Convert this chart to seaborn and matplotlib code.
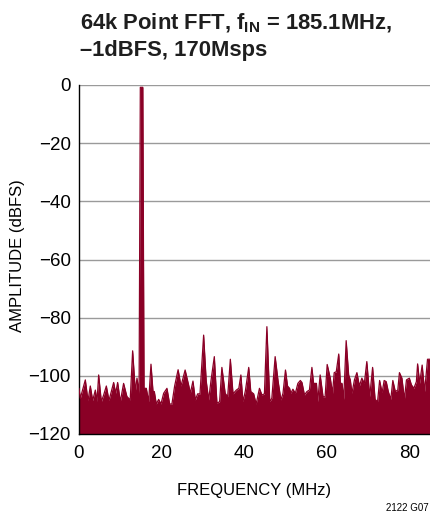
import matplotlib
matplotlib.use("Agg")
import matplotlib.pyplot as plt
import seaborn as sns
import pandas as pd
from matplotlib import font_manager as fm

# ---- data ----
freq_mhz = [0.0, 0.32, 1.53, 2.18, 2.74, 3.31, 3.96, 4.36, 4.76, 5.41, 5.97, 6.62, 7.26, 7.83,
            8.39, 8.88, 9.36, 10.0, 10.8, 11.6, 12.4, 12.99, 13.64, 14.04, 14.55, 14.85, 15.45,
            15.75, 16.3, 16.87, 17.43, 17.92, 18.24, 18.72, 19.29, 19.85, 20.5, 21.3, 21.95,
            22.5, 23.16, 24.0, 24.7, 25.7, 26.6, 26.96, 27.6, 28.17, 28.73, 29.3, 30.18, 30.8,
            31.4, 31.96, 32.77, 33.4, 34.05, 34.6, 35.4, 36.0, 36.65, 37.3, 38.1, 38.7, 39.2,
            39.7, 40.3, 41.1, 41.6, 42.3, 42.9, 43.7, 44.3, 44.9, 45.5, 46.2, 46.7, 47.5, 48.2,
            48.9, 49.4, 50.0, 50.5, 51.0, 51.3, 51.8, 52.4, 53.0, 53.6, 54.0, 54.6, 55.2, 55.8,
            56.4, 56.8, 57.5, 57.8, 58.4, 59.1, 59.6, 60.1, 60.85, 61.4, 61.8, 62.3, 62.9, 63.3,
            63.7, 64.1, 64.7, 65.3, 65.7, 66.1, 66.7, 67.3, 67.9, 68.5, 69.1, 69.7, 70.4, 71.1,
            71.7, 72.3, 72.8, 73.4, 73.9, 74.4, 74.9, 75.5, 76.0, 76.6, 77.2, 77.6, 78.2, 78.8,
            79.3, 80.0, 80.5, 81.1, 81.7, 82.0, 82.5, 83.1, 83.7, 84.4, 85.0]
amplitude_dbfs = [-104.3, -107.7, -101.4, -108.6, -103.5, -108.5, -104.9, -108.9, -99.7, -108.9,
                  -106.6, -103.5, -108.5, -105.4, -102.3, -106.0, -102.3, -108.9, -102.6, -107.1,
                  -108.3, -91.4, -105.4, -100.8, -106.0, -0.8, -0.8, -104.3, -104.3, -108.9,
                  -96.0, -105.4, -105.4, -109.7, -108.1, -109.7, -106.0, -104.3, -109.7, -109.7,
                  -103.5, -97.9, -103.5, -98.0, -103.5, -106.0, -101.8, -108.3, -106.2, -106.2,
                  -86.0, -101.7, -108.3, -101.7, -93.4, -109.4, -108.9, -97.1, -106.0, -107.2,
                  -94.3, -106.2, -104.9, -104.3, -99.7, -108.9, -105.1, -97.1, -105.4, -106.2,
                  -109.7, -104.3, -106.6, -106.2, -83.1, -108.9, -107.7, -93.4, -101.7, -108.3,
                  -106.0, -98.0, -103.5, -104.3, -106.0, -104.6, -106.0, -102.6, -101.6, -102.3,
                  -106.6, -105.4, -104.9, -97.1, -102.6, -102.6, -108.9, -99.7, -107.2, -107.2,
                  -96.1, -100.8, -106.0, -98.9, -98.6, -92.5, -102.6, -102.6, -108.1, -87.9,
                  -99.7, -101.4, -106.0, -101.4, -98.9, -103.5, -100.8, -102.6, -95.1, -107.2,
                  -97.1, -108.1, -108.9, -101.6, -105.8, -101.6, -102.0, -105.4, -108.1, -101.6,
                  -105.4, -104.9, -98.9, -100.8, -108.1, -101.4, -100.8, -103.1, -104.3, -102.0,
                  -95.9, -102.6, -96.3, -105.4, -94.3, -94.3]
x_ticks = [0, 20, 40, 60, 80]
y_ticks = [0, -20, -40, -60, -80, -100, -120]
title_line1 = r"64k Point FFT, f$_\mathregular{IN}$ = 185.1MHz,"
title_line2 = "\u20131dBFS, 170Msps"
x_label = "FREQUENCY (MHz)"
y_label = "AMPLITUDE (dBFS)"
note = "2122 G07"

trace_color = "#8A0026"

sns.set_theme(style="white")
names = {f.name for f in fm.fontManager.ttflist}
narrow = "Liberation Sans Narrow" if "Liberation Sans Narrow" in names else None
if narrow:
    plt.rcParams["font.family"] = [narrow, "DejaVu Sans"]
    title_fs, label_fs = 17, 13.5
else:
    plt.rcParams["font.family"] = ["Liberation Sans", "DejaVu Sans"]
    title_fs, label_fs = 15.8, 12
plt.rcParams["axes.unicode_minus"] = True

df = pd.DataFrame({"freq": freq_mhz, "amp": amplitude_dbfs})

fig = plt.figure(figsize=(4.30, 5.19), dpi=100)
ax = fig.add_axes([79 / 430, 85 / 519, 351 / 430, 349 / 519])

ax.fill_between(df["freq"], df["amp"], -120, color=trace_color, lw=0, zorder=2)
sns.lineplot(data=df, x="freq", y="amp", color=trace_color, lw=0.9, ax=ax, zorder=3)

ax.set_xlim(0, 85)
ax.set_ylim(-120, 0)
ax.set_xticks(x_ticks)
ax.set_yticks(y_ticks)
ax.set_axisbelow(True)
ax.yaxis.grid(True, color="#9a9a9a", lw=1.0)
ax.xaxis.grid(False)
for s in ["top", "right"]:
    ax.spines[s].set_visible(False)
for s in ["left", "bottom"]:
    ax.spines[s].set_color("black")
    ax.spines[s].set_linewidth(1.0)
ax.tick_params(axis="both", length=0, labelsize=13.5, colors="black")
ax.tick_params(axis="y", pad=6)
ax.tick_params(axis="x", pad=8)

ax.set_xlabel(x_label, fontsize=label_fs, color="black")
ax.set_ylabel(y_label, fontsize=label_fs, color="black")
ax.xaxis.set_label_coords(0.5, -0.14)
ax.yaxis.set_label_coords(-0.155, 0.51)

fig.text(80 / 430, 1 - 12 / 519, title_line1 + "\n" + title_line2, ha="left", va="top",
         fontsize=title_fs, fontweight="bold", color="#1e1e1e", linespacing=1.3)
fig.text(429 / 430, 1 - 508 / 519, note, ha="right", va="center", fontsize=7, color="black")

fig.savefig("out.png", dpi=100)
